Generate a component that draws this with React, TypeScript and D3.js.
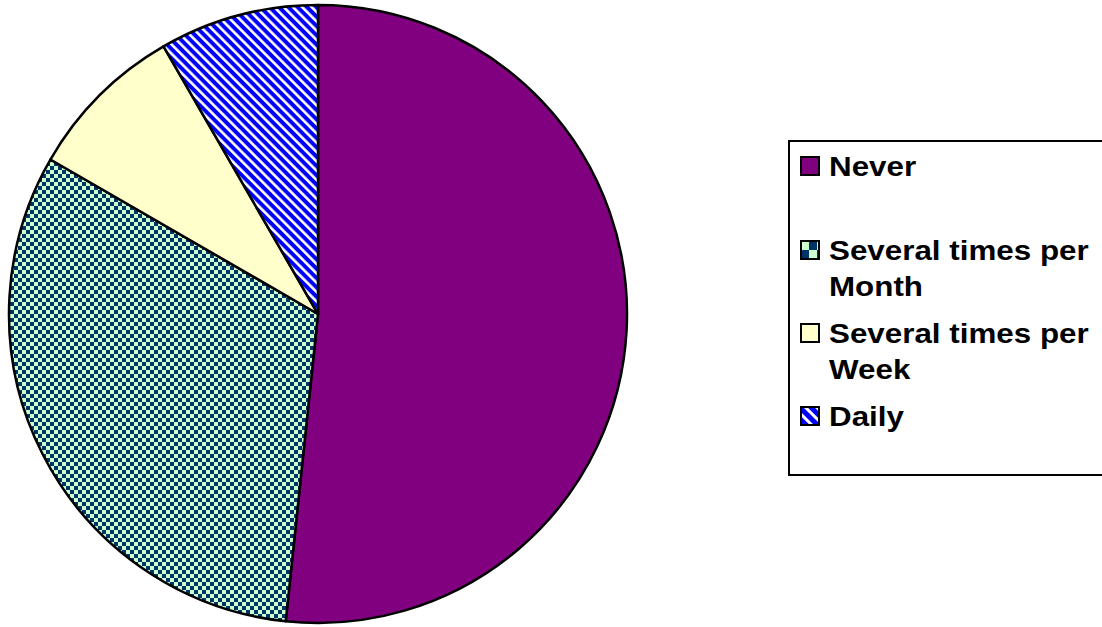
import React from "react";
import * as d3 from "d3";

const categories = ["Never", "Several times per Month", "Several times per Week", "Daily"];
const values = [31, 19, 5, 5];
const legendLines = [["Never"], ["Several times per", "Month"], ["Several times per", "Week"], ["Daily"]];
const fills = ["#800080", "url(#checker)", "#FFFFCC", "url(#stripes)"];
const legendFills = ["#800080", "url(#checkerL)", "#FFFFCC", "url(#stripesL)"];

const W = 1102, H = 627;
const cx = 318, cy = 314, R = 309;

export default function App() {
  const pie = d3.pie<number>().sort(null).startAngle(0).endAngle(2 * Math.PI);
  const arcs = pie(values);
  const arcGen = d3.arc<d3.PieArcDatum<number>>().innerRadius(0).outerRadius(R);

  const legendX = 789, legendY = 141, legendW = 320, legendH = 334;
  const entryY = [166, 250, 333, 416];
  const fontSize = 28;
  const lineGap = 36;
  const textX = 829;

  return (
    <svg width={W} height={H} style={{ position: "fixed", left: 0, top: 0, background: "#fff" }}>
      <defs>
        <pattern id="checker" width={8} height={8} patternUnits="userSpaceOnUse">
          <rect width={8} height={8} fill="#CCFFCC" />
          <rect x={0} y={0} width={4} height={4} fill="#003366" />
          <rect x={4} y={4} width={4} height={4} fill="#003366" />
        </pattern>
        <pattern id="checkerL" width={16} height={16} patternUnits="userSpaceOnUse" x={801} y={242}>
          <rect width={16} height={16} fill="#CCFFCC" />
          <rect x={8} y={0} width={8} height={8} fill="#003366" />
          <rect x={0} y={8} width={8} height={8} fill="#003366" />
        </pattern>
        <pattern id="stripes" width={6.6} height={10} patternUnits="userSpaceOnUse" patternTransform="rotate(-45)">
          <rect width={6.6} height={10} fill="#0000FF" />
          <rect x={0} width={2.6} height={10} fill="#FFFFFF" />
        </pattern>
        <pattern id="stripesL" width={8} height={10} patternUnits="userSpaceOnUse" patternTransform="rotate(-45)">
          <rect width={8} height={10} fill="#0000FF" />
          <rect x={0} width={3} height={10} fill="#FFFFFF" />
        </pattern>
      </defs>
      <g transform={`translate(${cx},${cy})`}>
        {arcs.map((a, i) => (
          <path key={categories[i]} d={arcGen(a) || ""} fill={fills[i]} stroke="#000" strokeWidth={2.5} strokeLinejoin="round" />
        ))}
      </g>
      <rect x={legendX} y={legendY} width={legendW} height={legendH} fill="#fff" stroke="#000" strokeWidth={2} />
      {categories.map((c, i) => (
        <g key={c}>
          <rect x={801} y={entryY[i] - 9} width={18} height={18} fill={legendFills[i]} stroke="#000" strokeWidth={2} />
          <text
            transform={`translate(${textX},${entryY[i] + 10}) scale(1.12,1)`}
            fontFamily="'Liberation Sans', Arial, sans-serif"
            fontWeight="bold"
            fontSize={fontSize}
            fill="#000"
          >
            {legendLines[i].map((l, j) => (
              <tspan key={j} x={0} dy={j === 0 ? 0 : lineGap}>{l}</tspan>
            ))}
          </text>
        </g>
      ))}
    </svg>
  );
}
